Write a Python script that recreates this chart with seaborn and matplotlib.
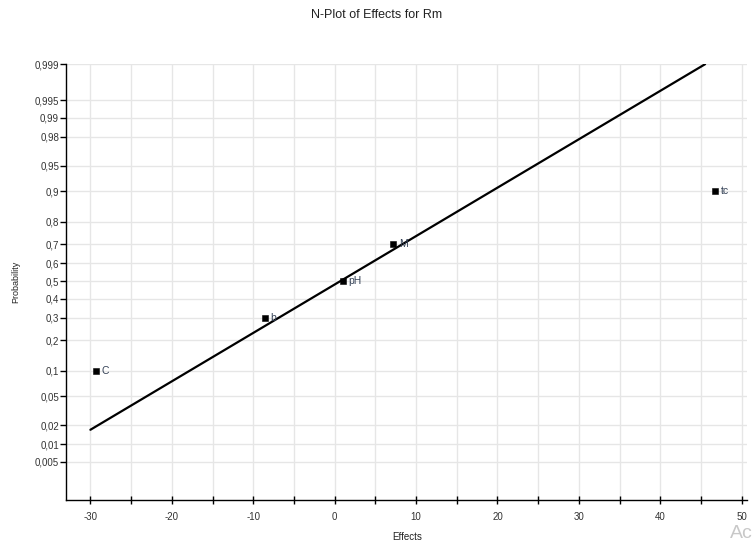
import numpy as np
import pandas as pd
import matplotlib
matplotlib.use("Agg")
import matplotlib.pyplot as plt
import seaborn as sns
from matplotlib.ticker import FixedLocator, MultipleLocator
from statistics import NormalDist

# effects and their plotting probabilities
factors = ["C", "b", "pH", "M", "tc"]
effects = [-29.3, -8.6, 1.0, 7.2, 46.7]
probs = [0.1, 0.3, 0.5, 0.7, 0.9]

# fitted normal line (end points)
line_effects = [-30.0, 45.5]
line_probs = [0.017, 0.999]

prob_ticks = [0.005, 0.01, 0.02, 0.05, 0.1, 0.2, 0.3, 0.4, 0.5, 0.6, 0.7, 0.8,
              0.9, 0.95, 0.98, 0.99, 0.995, 0.999]

_nd = NormalDist()
_ppf = np.vectorize(_nd.inv_cdf, otypes=[float])
_cdf = np.vectorize(_nd.cdf, otypes=[float])


def probit(p):
    p = np.clip(np.asarray(p, dtype=float), 1e-9, 1 - 1e-9)
    return _ppf(p)


def inv_probit(z):
    return _cdf(np.asarray(z, dtype=float))


sns.set_theme(style="whitegrid")
plt.rcParams["font.family"] = ["Liberation Sans", "DejaVu Sans"]
plt.rcParams["axes.unicode_minus"] = False

df = pd.DataFrame({"factor": factors, "effect": effects, "prob": probs})
line_df = pd.DataFrame({"effect": line_effects, "prob": line_probs})

fig = plt.figure(figsize=(7.53, 5.44), dpi=100)
ax = fig.add_axes([0.0876, 0.081, 0.905, 0.801])
ax.set_yscale("function", functions=(probit, inv_probit))

sns.lineplot(data=line_df, x="effect", y="prob", color="black", linewidth=1.6, ax=ax)
sns.scatterplot(data=df, x="effect", y="prob", marker="s", s=22, color="black",
                edgecolor="black", ax=ax, zorder=3)
for _, r in df.iterrows():
    ax.annotate(r["factor"], (r["effect"], r["prob"]), xytext=(4, 0),
                textcoords="offset points", va="center", fontsize=7.5, color="#334055")

ax.set_xlim(-33, 50.7)
ax.set_ylim(float(inv_probit(-3.12)), 0.999)
ax.yaxis.set_major_locator(FixedLocator(prob_ticks))
ax.set_yticklabels([str(p).replace(".", ",") for p in prob_ticks])
ax.yaxis.set_minor_locator(FixedLocator([]))
ax.xaxis.set_major_locator(MultipleLocator(10))
ax.xaxis.set_minor_locator(MultipleLocator(5))

ax.set_facecolor("white")
ax.grid(True, which="both", color="#e6e6e6", linewidth=1)
for s in ["top", "right"]:
    ax.spines[s].set_visible(False)
for s in ["left", "bottom"]:
    ax.spines[s].set_color("black")
    ax.spines[s].set_linewidth(1)
ax.tick_params(axis="y", which="major", direction="out", length=4, width=1,
               color="black", labelsize=7, labelcolor="#333333", pad=1, left=True)
ax.tick_params(axis="x", which="both", direction="inout", length=6, width=1,
               color="black", labelsize=7, labelcolor="#333333", bottom=True)
ax.tick_params(axis="x", which="major", pad=6)

ax.set_xlabel("Effects", fontsize=7, color="#222222", labelpad=7)
ax.set_ylabel("Probability", fontsize=6.5, color="#222222", labelpad=10)
fig.text(0.5, 0.972, "N-Plot of Effects for Rm", fontsize=9, color="#222222",
         ha="center", va="center")
fig.text(0.999, 0.003, "Ac", fontsize=14, color="#c8c8c8", ha="right", va="bottom")

fig.savefig("out.png", dpi=100)
